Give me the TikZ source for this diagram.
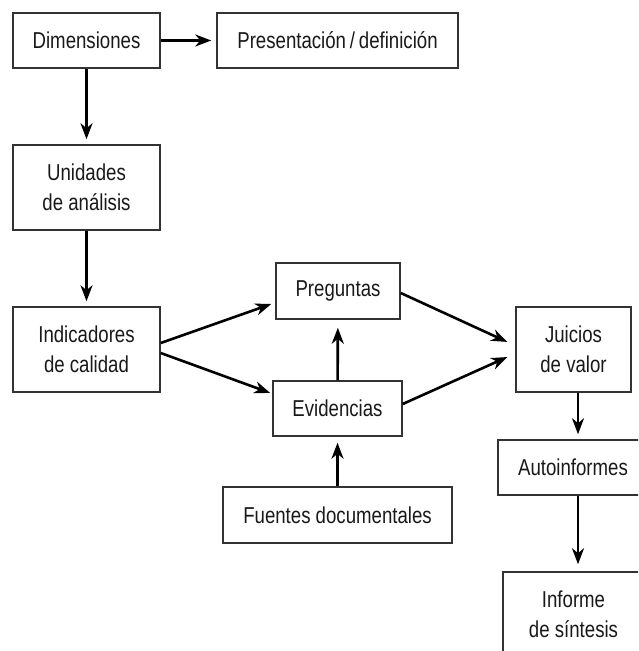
\documentclass[tikz,border=0pt]{standalone}
\usepackage{fontspec}
\setmainfont[FakeStretch=0.81]{Liberation Sans}
\usetikzlibrary{arrows.meta}

\begin{document}
\begin{tikzpicture}[
    x=0.5pt, y=-0.5pt,
    box/.style={draw=black!80, line width=0.75pt, inner sep=0pt, align=center,
      text=black!90, font=\fontsize{11.5}{15}\selectfont},
    arr/.style={-{Stealth[length=8pt, width=6pt, inset=2.5pt]}, line width=1.3pt,
      shorten >=2.5pt}
  ]
    \clip (0,0) rectangle (638,651);
    \node[box, minimum width=73.5pt, minimum height=27.5pt] (dim) at (86.5,40.5) {Dimensiones};
    \node[box, minimum width=120.5pt, minimum height=27.5pt] (pres) at (337.5,40.5) {Presentación\,/\,definición};
    \node[box, minimum width=73.5pt, minimum height=42.5pt] (unid) at (86.5,187.5) {Unidades\\de análisis};
    \node[box, minimum width=73.5pt, minimum height=42.5pt] (indic) at (86.5,349.5) {Indicadores\\de calidad};
    \node[box, minimum width=62pt, minimum height=28pt] (preg) at (338,291) {Preguntas};
    \node[box, minimum width=64.5pt, minimum height=27.5pt] (evid) at (337.5,408.5) {Evidencias};
    \node[box, minimum width=114.5pt, minimum height=28pt] (fuen) at (337.5,515) {Fuentes documentales};
    \node[box, minimum width=57.5pt, minimum height=42.5pt] (juic) at (573.5,349.5) {Juicios\\de valor};
    \node[box, minimum width=75pt, minimum height=27.5pt] (autoinf) at (573,467.5) {Autoinformes};
    \node[box, minimum width=70.5pt, minimum height=42.5pt] (info) at (573.5,614.5) {Informe\\de síntesis};

    \draw[arr] (dim) -- (pres);
    \draw[arr] (dim) -- (unid);
    \draw[arr] (unid) -- (indic);
    \draw[arr, shorten >=2.1pt] ([yshift=3.25pt]indic.east) -- ([yshift=-5.8pt]preg.west);
    \draw[arr, shorten >=1.1pt] ([yshift=-1.75pt]indic.east) -- ([yshift=7.4pt]evid.west);
    \draw[arr, shorten >=4pt] (evid) -- (preg);
    \draw[arr, shorten >=3pt] (fuen) -- (evid);
    \draw[arr, shorten >=4.4pt] ([yshift=-1pt]preg.east) -- ([yshift=1.95pt]juic.west);
    \draw[arr, shorten >=4.4pt] ([yshift=2.25pt]evid.east) -- ([yshift=-1.97pt]juic.west);
    \draw[arr] ([xshift=2.25pt]juic.south) -- ([xshift=2.5pt]autoinf.north);
    \draw[arr, shorten >=3.5pt] ([xshift=2.5pt]autoinf.south) -- ([xshift=2.25pt]info.north);
\end{tikzpicture}
\end{document}
